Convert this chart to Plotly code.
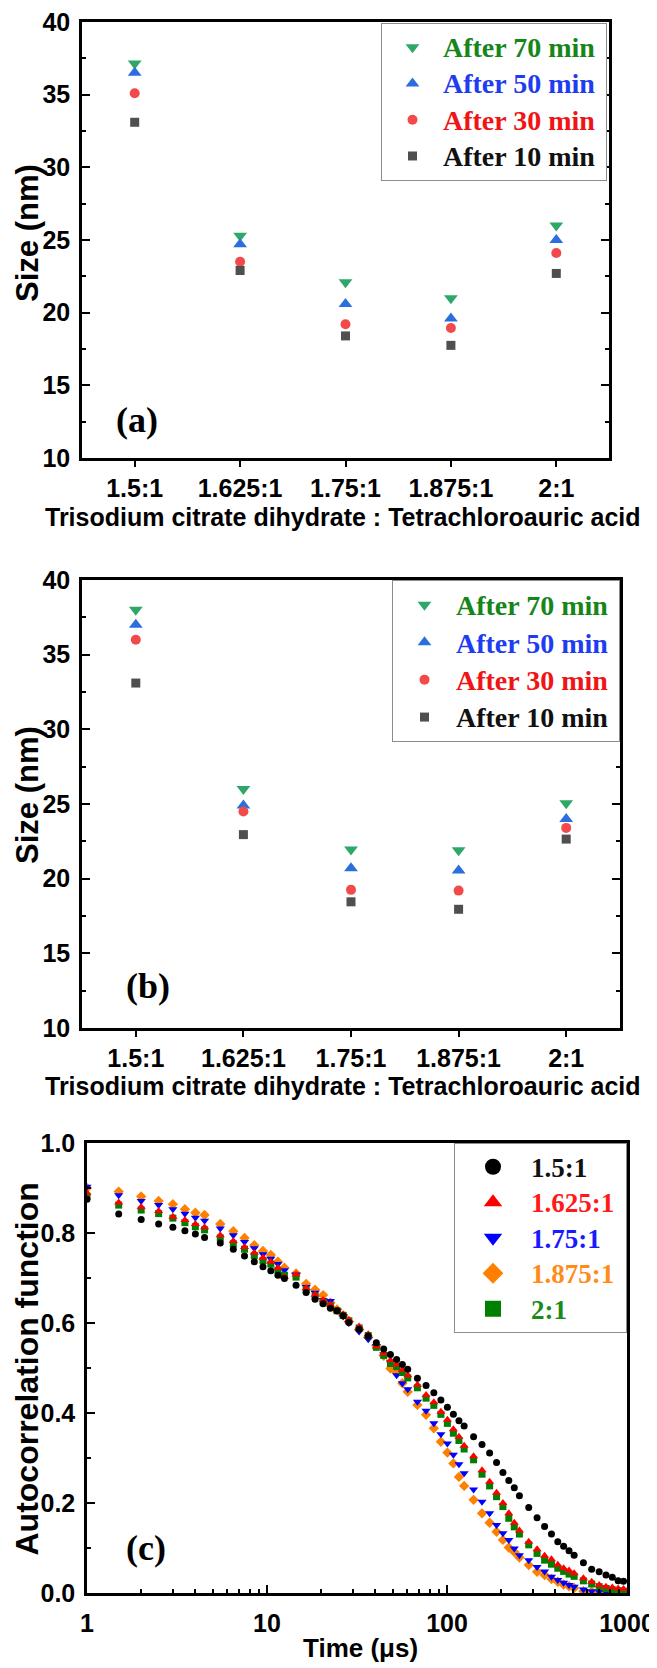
import plotly.graph_objects as go

# ---------------- data ----------------
categories = ["1.5:1", "1.625:1", "1.75:1", "1.875:1", "2:1"]

# panel (a)
a_10min = [33.1, 22.9, 18.4, 17.75, 22.7]
a_30min = [35.1, 23.5, 19.2, 18.95, 24.1]
a_50min = [36.5, 24.7, 20.6, 19.6, 25.0]
a_70min = [37.15, 25.3, 22.1, 21.0, 26.0]

# panel (b)
b_10min = [33.1, 22.95, 18.45, 17.95, 22.65]
b_30min = [36.0, 24.5, 19.25, 19.2, 23.4]
b_50min = [37.0, 24.9, 20.7, 20.55, 24.0]
b_70min = [38.0, 26.0, 21.95, 21.9, 25.05]

# panel (c): correlator delay times (us)
time_us = [1, 1.5, 2, 2.5, 3, 3.5, 4, 4.5,
           5.5, 6.5, 7.5, 8.5, 9.5, 10.5, 11.5, 12.5,
           14.5, 16.5, 18.5, 20.5, 22.5, 24.5, 26.5, 28.5,
           32.5, 36.5, 40.5, 44.5, 48.5, 52.5, 56.5, 60.5,
           68.5, 76.5, 84.5, 92.5, 100.5, 108.5, 116.5, 124.5,
           140.5, 156.5, 172.5, 188.5, 204.5, 220.5, 236.5, 252.5,
           284.5, 316.5, 348.5, 380.5, 412.5, 444.5, 476.5, 508.5,
           572.5, 636.5, 700.5, 764.5, 828.5, 892.5, 956.5]

acf_1500 = [0.875, 0.842, 0.830, 0.820, 0.813, 0.805, 0.798, 0.790,
            0.778, 0.764, 0.749, 0.736, 0.725, 0.716, 0.706, 0.699,
            0.684, 0.668, 0.653, 0.643, 0.633, 0.627, 0.616, 0.601,
            0.586, 0.571, 0.556, 0.542, 0.530, 0.519, 0.508, 0.497,
            0.477, 0.461, 0.445, 0.429, 0.413, 0.397, 0.383, 0.371,
            0.347, 0.330, 0.311, 0.290, 0.268, 0.250, 0.234, 0.216,
            0.190, 0.167, 0.148, 0.131, 0.114, 0.104, 0.094, 0.084,
            0.067, 0.053, 0.047, 0.040, 0.035, 0.027, 0.026]

acf_1625 = [0.889, 0.868, 0.858, 0.849, 0.836, 0.829, 0.820, 0.813,
            0.795, 0.782, 0.769, 0.756, 0.745, 0.736, 0.723, 0.703,
            0.708, 0.677, 0.663, 0.651, 0.641, 0.628, 0.619, 0.607,
            0.592, 0.575, 0.548, 0.533, 0.517, 0.508, 0.496, 0.484,
            0.463, 0.440, 0.424, 0.403, 0.385, 0.364, 0.347, 0.327,
            0.304, 0.273, 0.247, 0.223, 0.200, 0.177, 0.156, 0.139,
            0.114, 0.097, 0.083, 0.075, 0.063, 0.055, 0.050, 0.044,
            0.033, 0.025, 0.018, 0.014, 0.012, 0.010, 0.009]

acf_1750 = [0.903, 0.884, 0.871, 0.862, 0.853, 0.843, 0.834, 0.827,
            0.810, 0.795, 0.780, 0.766, 0.753, 0.743, 0.731, 0.717,
            0.708, 0.680, 0.667, 0.651, 0.649, 0.627, 0.615, 0.600,
            0.581, 0.564, 0.549, 0.530, 0.514, 0.484, 0.466, 0.453,
            0.425, 0.405, 0.377, 0.353, 0.332, 0.307, 0.286, 0.266,
            0.230, 0.203, 0.177, 0.151, 0.133, 0.118, 0.099, 0.084,
            0.073, 0.058, 0.048, 0.036, 0.029, 0.023, 0.018, 0.014,
            0.008, 0.004, 0.003, 0.002, 0.001, 0.001, 0.000]

acf_1875 = [0.900, 0.892, 0.881, 0.871, 0.864, 0.853, 0.845, 0.840,
            0.820, 0.804, 0.789, 0.773, 0.760, 0.751, 0.736, 0.723,
            0.710, 0.687, 0.674, 0.662, 0.645, 0.630, 0.617, 0.603,
            0.585, 0.568, 0.550, 0.527, 0.499, 0.490, 0.466, 0.447,
            0.418, 0.396, 0.366, 0.336, 0.312, 0.288, 0.258, 0.238,
            0.207, 0.177, 0.156, 0.136, 0.118, 0.101, 0.091, 0.079,
            0.062, 0.047, 0.040, 0.031, 0.025, 0.019, 0.015, 0.011,
            0.004, 0.003, 0.002, 0.001, 0.001, 0.000, 0.000]

acf_2000 = [0.882, 0.862, 0.851, 0.843, 0.833, 0.823, 0.814, 0.807,
            0.789, 0.776, 0.764, 0.750, 0.739, 0.731, 0.717, 0.706,
            0.702, 0.674, 0.660, 0.647, 0.638, 0.627, 0.617, 0.605,
            0.589, 0.572, 0.546, 0.528, 0.510, 0.503, 0.490, 0.478,
            0.456, 0.433, 0.417, 0.397, 0.377, 0.355, 0.339, 0.320,
            0.296, 0.264, 0.238, 0.214, 0.192, 0.166, 0.147, 0.131,
            0.107, 0.088, 0.073, 0.064, 0.055, 0.048, 0.042, 0.037,
            0.027, 0.020, 0.014, 0.010, 0.007, 0.005, 0.004]

# ---------------- layout helpers ----------------
# The page body has an 8px margin, so the figure is sized to fill the
# 657x1668 window exactly and page positions are converted to figure ones.
OFF = 8
W, H = 657 - OFF, 1668 - OFF


def fx(p):
    return (p - OFF) / W


def fy(p):
    return 1 - (p - OFF) / H


SANS = "Liberation Sans, Arial, sans-serif"
SERIF = "Liberation Serif, Times New Roman, serif"
TICKF = dict(family=SANS, size=25, color="black", weight="bold")


def leg_name(text, color, size):
    return (f"<span style='color:{color};font-size:{size}px'>{text}</span>"
            "<span style='font-size:12px'>&nbsp;&nbsp;</span>")


fig = go.Figure()

# ---------------- panels (a) and (b) ----------------
ab_styles = [
    ("After 70 min", "triangle-down", "#2ea868", "#17861a", 12),
    ("After 50 min", "triangle-up", "#2b6fdf", "#1f3df0", 12),
    ("After 30 min", "circle", "#f24a4a", "#f01515", 10),
    ("After 10 min", "square", "#4f4f4f", "#111111", 9),
]
a_values = [a_70min, a_50min, a_30min, a_10min]
b_values = [b_70min, b_50min, b_30min, b_10min]

for (name, sym, mcol, tcol, sz), ya in zip(ab_styles, a_values):
    fig.add_trace(go.Scatter(
        x=categories, y=ya, mode="markers", xaxis="x", yaxis="y",
        name=leg_name(name, tcol, 28), legend="legend",
        marker=dict(symbol=sym, size=sz, color=mcol, line=dict(width=0)),
    ))
for (name, sym, mcol, tcol, sz), yb in zip(ab_styles, b_values):
    fig.add_trace(go.Scatter(
        x=categories, y=yb, mode="markers", xaxis="x2", yaxis="y2",
        name=leg_name(name, tcol, 28), legend="legend2",
        marker=dict(symbol=sym, size=sz, color=mcol, line=dict(width=0)),
    ))

# ---------------- panel (c) ----------------
c_styles = [
    ("1.5:1", acf_1500, "circle", "#000000", "#111111", 7),
    ("1.625:1", acf_1625, "triangle-up", "#ff0000", "#ff1a1a", 8),
    ("1.75:1", acf_1750, "triangle-down", "#0000ff", "#1a1aff", 8),
    ("1.875:1", acf_1875, "diamond", "#ff8000", "#ff8c1a", 8),
    ("2:1", acf_2000, "square", "#008000", "#1a8a1a", 7),
]
draw_order = [3, 2, 4, 1, 0]
for i in draw_order:
    name, vals, sym, mcol, tcol, sz = c_styles[i]
    fig.add_trace(go.Scatter(
        x=time_us, y=vals, mode="markers", xaxis="x3", yaxis="y3",
        showlegend=False, name=name,
        marker=dict(symbol=sym, size=sz, color=mcol, line=dict(width=0)),
    ))
for i, (name, vals, sym, mcol, tcol, sz) in enumerate(c_styles):
    fig.add_trace(go.Scatter(
        x=[None], y=[None], mode="markers", xaxis="x3", yaxis="y3",
        name=leg_name(name, tcol, 27), legend="legend3", legendrank=i + 1,
        marker=dict(symbol=sym, size=16, color=mcol, line=dict(width=0)),
    ))

# ---------------- axes ----------------
common = dict(showline=True, linewidth=2.5, linecolor="black", showgrid=False,
              zeroline=False, tickcolor="black", tickwidth=2, automargin=False,
              tickfont=TICKF, ticklabeloverflow="allow")

cat_x = dict(type="category", categoryorder="array", categoryarray=categories,
             range=[-0.5, 4.5], ticks="outside", ticklen=6, mirror=True, **common)
size_y = dict(range=[10, 40], tick0=10, dtick=5, ticks="inside", ticklen=8,
              mirror="allticks", ticklabelstandoff=4,
              minor=dict(tick0=10, dtick=2.5, ticks="inside", ticklen=4,
                         tickwidth=2, tickcolor="black", showgrid=False),
              **common)

minor_log = [k * 10 ** d for d in range(3) for k in range(2, 10)]

fig.update_layout(
    width=W, height=H, autosize=False,
    margin=dict(l=0, r=0, t=0, b=0, pad=0, autoexpand=False),
    paper_bgcolor="white", plot_bgcolor="white",
    xaxis=dict(domain=[fx(82), fx(609)], anchor="y", **cat_x),
    yaxis=dict(domain=[fy(458), fy(22)], anchor="x", **size_y),
    xaxis2=dict(domain=[fx(82), fx(620)], anchor="y2", **cat_x),
    yaxis2=dict(domain=[fy(1028), fy(580)], anchor="x2", **size_y),
    xaxis3=dict(domain=[fx(87), fx(627)], anchor="y3", type="log", range=[0, 3],
                tickvals=[1, 10, 100, 1000], ticktext=["1", "10", "100", "1000"],
                ticks="inside", ticklen=8, mirror=True, ticklabelstandoff=6,
                minor=dict(tickmode="array", tickvals=minor_log, ticks="inside",
                           ticklen=4, tickwidth=1.5, tickcolor="black", showgrid=False),
                **common),
    yaxis3=dict(domain=[fy(1593), fy(1143)], anchor="x3", range=[0, 1], dtick=0.2,
                tickformat=".1f", ticks="inside", ticklen=8, mirror=True,
                ticklabelstandoff=4,
                minor=dict(dtick=0.1, ticks="inside", ticklen=4, tickwidth=1.5,
                           tickcolor="black", showgrid=False),
                **common),
    showlegend=True,
)

leg_common = dict(bgcolor="white", bordercolor="#8c8c8c", borderwidth=1,
                  itemsizing="trace", valign="middle",
                  xanchor="right", yanchor="top", traceorder="normal")
fig.update_layout(
    legend=dict(x=fx(607), y=fy(23), itemwidth=51,
                font=dict(family=SERIF, size=25.6, color="black", weight="bold"),
                **leg_common),
    legend2=dict(x=fx(620), y=fy(580), itemwidth=53,
                 font=dict(family=SERIF, size=26.5, color="black", weight="bold"),
                 **leg_common),
    legend3=dict(x=fx(627), y=fy(1143), itemwidth=66,
                 font=dict(family=SERIF, size=25, color="black", weight="bold"),
                 **leg_common),
)

# ---------------- titles & panel labels ----------------
TITLE_Y = dict(family=SANS, size=31, color="black", weight="bold")
TITLE_AC = dict(family=SANS, size=32, color="black", weight="bold")
TITLE_X = dict(family=SANS, size=25, color="black", weight="bold")
LABEL = dict(family=SERIF, size=36, color="black", weight="bold")
xtitle = "Trisodium citrate dihydrate : Tetrachloroauric acid"

annos = [
    dict(text="Size (nm)", x=fx(27), y=fy(233), textangle=-90, font=TITLE_Y),
    dict(text="Size (nm)", x=fx(27), y=fy(795), textangle=-90, font=TITLE_Y),
    dict(text="Autocorrelation function", x=fx(26.5), y=fy(1369), textangle=-90, font=TITLE_AC),
    dict(text=xtitle, x=fx(343), y=fy(517), font=TITLE_X),
    dict(text=xtitle, x=fx(343), y=fy(1086), font=TITLE_X),
    dict(text="Time (μs)", x=fx(360), y=fy(1648), font=dict(family=SANS, size=26, color="black", weight="bold")),
]
for a in annos:
    fig.add_annotation(xref="paper", yref="paper", showarrow=False,
                       xanchor="center", yanchor="middle", **a)

fig.add_annotation(text="(a)", x=0.02, y=12.6, xref="x", yref="y", showarrow=False, font=LABEL)
fig.add_annotation(text="(b)", x=0.11, y=12.8, xref="x2", yref="y2", showarrow=False, font=LABEL)
fig.add_annotation(text="(c)", x=0.328, y=0.1, xref="x3", yref="y3", showarrow=False, font=LABEL)

fig.write_html("out.html")
